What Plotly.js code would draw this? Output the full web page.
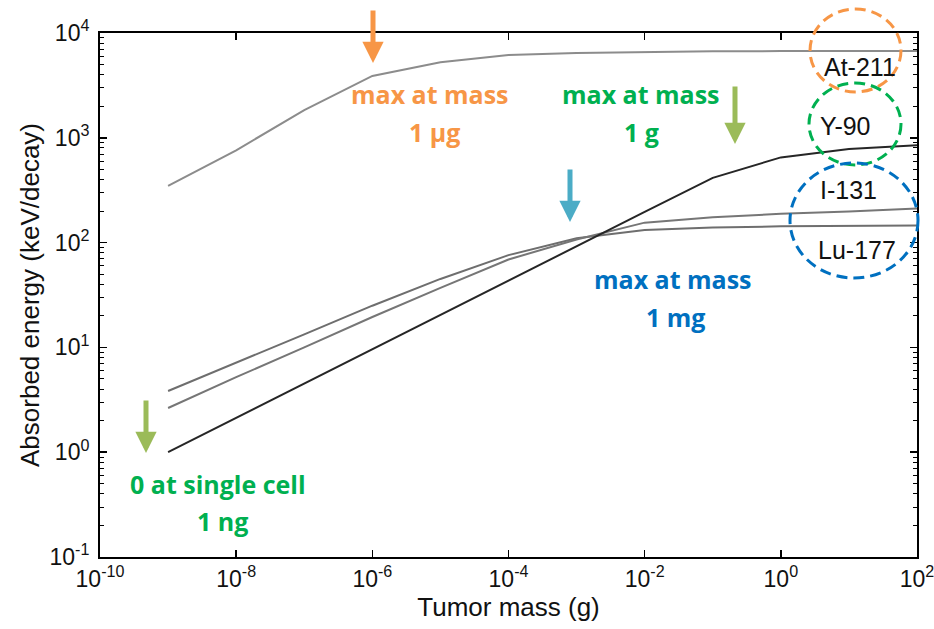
<!DOCTYPE html>
<html>
<head>
<meta charset="utf-8">
<script src="https://cdn.plot.ly/plotly-3.0.1.min.js"></script>
<style>html,body{margin:0;padding:0;background:#fff;}</style>
</head>
<body>
<div id="chart" style="width:934px;height:629px;"></div>
<script>
// ---- data ----
const tumorMass = [1e-9, 1e-8, 1e-7, 1e-6, 1e-5, 1e-4, 1e-3, 1e-2, 1e-1, 1e0, 1e1, 1e2];
const at211 = [347, 760, 1840, 3890, 5270, 6170, 6450, 6600, 6680, 6720, 6730, 6740];
const y90   = [1.0, 2.13, 4.5, 9.6, 20.5, 43.5, 92, 196, 415, 650, 780, 850];
const lu177 = [3.84, 7.1, 13.3, 25, 45, 76, 110, 132, 139, 143, 145, 146];
const i131  = [2.64, 5.2, 10, 19.5, 37, 69, 107, 155, 175, 188, 198, 211];

const xTickExp = [-10, -8, -6, -4, -2, 0, 2];
const yTickExp = [-1, 0, 1, 2, 3, 4];
const isotopeLabels = ['At-211', 'Y-90', 'I-131', 'Lu-177'];

const xTickVals = xTickExp.map(e => Math.pow(10, e));
const xTickText = xTickExp.map(e => '10<sup>' + e + '</sup>');
const yTickVals = yTickExp.map(e => Math.pow(10, e));
const yTickText = yTickExp.map(e => '10<sup>' + e + '</sup>');

// plot area in pixels (for decorations only)
const L = 100, R = 917, T = 33, B = 557;
const px = x => (x - L) / (R - L);
const py = y => (B - y) / (B - T);

const trace = (y, color) => ({
  x: tumorMass, y: y, type: 'scatter', mode: 'lines',
  line: {color: color, width: 2}, hoverinfo: 'skip'
});
const data = [
  trace(at211, '#8c8c8c'),
  trace(lu177, '#6e6e6e'),
  trace(i131, '#767676'),
  trace(y90, '#262626')
];

const ORANGE = '#F79646', GREEN_T = '#00B050', GREEN_A = '#9BBB59', BLUE_T = '#0070C0', BLUE_A = '#4BACC6';
const boldFont = (c) => ({family: '"Open Sans", Lato, sans-serif', size: 25, color: c, weight: 'bold'});

function txt(x, y, text, color) {
  return {xref: 'paper', yref: 'paper', x: px(x), y: py(y), text: '<b>' + text + '</b>',
    showarrow: false, xanchor: 'center', yanchor: 'middle', font: boldFont(color)};
}
function arrow(x, top, tip, color) {
  return {xref: 'paper', yref: 'paper', x: px(x), y: py(tip), ax: 0, ay: -(tip - top),
    axref: 'pixel', ayref: 'pixel', text: '', showarrow: true,
    arrowhead: 2, arrowsize: 0.85, arrowwidth: 5, arrowcolor: color};
}
function lab(x, y, text) {
  return {xref: 'paper', yref: 'paper', x: px(x), y: py(y), text: text, showarrow: false,
    xanchor: 'center', yanchor: 'middle',
    font: {family: 'Liberation Sans, Arial, sans-serif', size: 25, color: '#111'}};
}

const annotations = [
  arrow(373, 9, 63, ORANGE),
  arrow(735, 85, 144, GREEN_A),
  arrow(570, 168, 222, BLUE_A),
  arrow(146, 399, 453, GREEN_A),
  txt(430, 94, 'max at mass', ORANGE),
  txt(434, 132, '1 µg', ORANGE),
  txt(641, 94, 'max at mass', GREEN_T),
  txt(641, 132, '1 g', GREEN_T),
  txt(673, 279, 'max at mass', BLUE_T),
  txt(675, 317, '1 mg', BLUE_T),
  txt(218, 484, '0 at single cell', GREEN_T),
  txt(222, 521, '1 ng', GREEN_T),
  lab(860, 67, isotopeLabels[0]),
  lab(845, 126, isotopeLabels[1]),
  lab(848, 190, isotopeLabels[2]),
  lab(857, 250, isotopeLabels[3])
];

function circ(x0, x1, y0, y1, color) {
  return {type: 'circle', xref: 'paper', yref: 'paper', x0: px(x0), x1: px(x1), y0: py(y1), y1: py(y0),
    line: {color: color, width: 3, dash: '11px,6px'}, fillcolor: 'rgba(0,0,0,0)'};
}
const shapes = [
  circ(810, 901, 9, 92, ORANGE),
  circ(809, 901, 83, 165, '#00B050'),
  circ(790, 918, 163, 278, '#0070C0')
];

const axisCommon = {
  type: 'log', showgrid: false, zeroline: false, showline: true, linecolor: '#000', linewidth: 2,
  mirror: 'allticks', ticks: 'inside', ticklen: 7, tickwidth: 1.5, tickcolor: '#000',
  tickmode: 'array', ticklabeloverflow: 'allow',
  tickfont: {family: 'Liberation Sans, Arial, sans-serif', size: 23, color: '#111'}
};

const layout = {
  width: 934, height: 629,
  margin: {l: L, r: 934 - R, t: T, b: 629 - B},
  paper_bgcolor: '#fff', plot_bgcolor: '#fff', showlegend: false,
  font: {family: 'Liberation Sans, Arial, sans-serif', color: '#111'},
  xaxis: Object.assign({}, axisCommon, {
    range: [-10, 2], tickvals: xTickVals, ticktext: xTickText,
    title: {text: 'Tumor mass (g)', font: {size: 26, color: '#111'}, standoff: 6}
  }),
  yaxis: Object.assign({}, axisCommon, {
    range: [-1, 4], tickvals: yTickVals, ticktext: yTickText, ticklabelstandoff: 4,
    minor: {dtick: 'D1', ticks: 'inside', ticklen: 4, tickwidth: 1, tickcolor: '#000', showgrid: false},
    title: {text: 'Absorbed energy (keV/decay)', font: {size: 26, color: '#111'}, standoff: 2}
  }),
  annotations: annotations,
  shapes: shapes
};

Plotly.newPlot('chart', data, layout, {staticPlot: true, displayModeBar: false});
</script>
</body>
</html>
